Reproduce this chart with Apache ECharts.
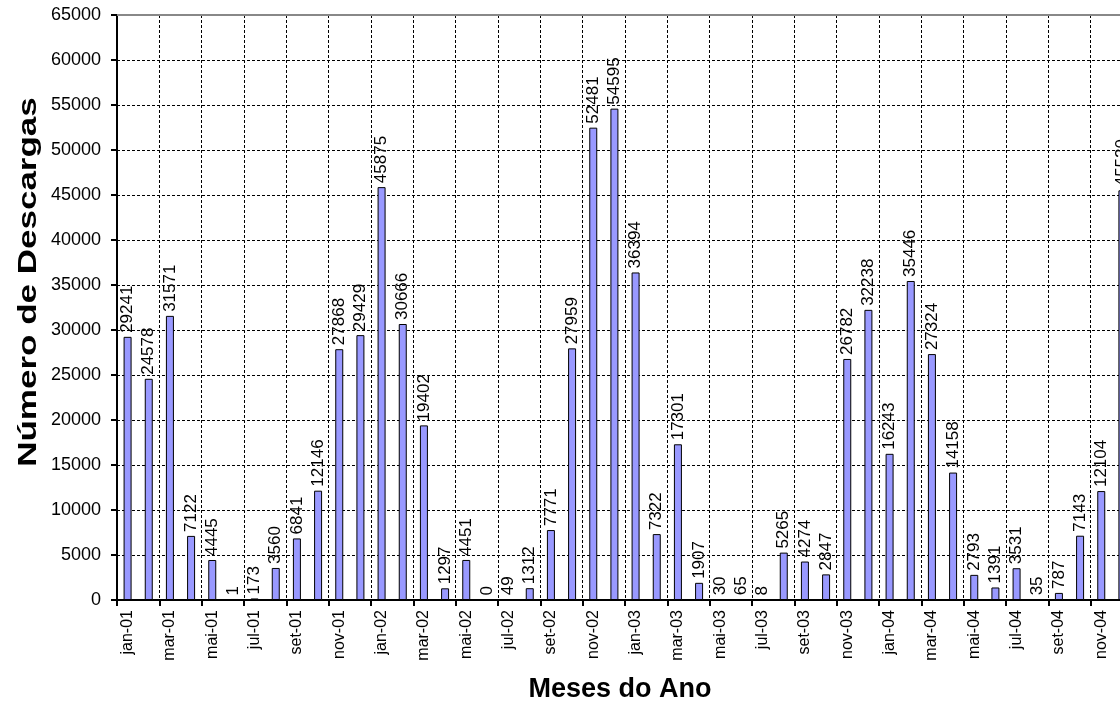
<!DOCTYPE html>
<html>
<head>
<meta charset="utf-8">
<script src="https://cdn.jsdelivr.net/npm/echarts@6/dist/echarts.min.js"></script>
<style>html,body{margin:0;padding:0;background:#fff}#c{width:1120px;height:704px}</style>
</head>
<body>
<div id="c"></div>
<script>
const months = ['jan','fev','mar','abr','mai','jun','jul','ago','set','out','nov','dez'];
const years = ['01','02','03','04'];
const categories = [];
years.forEach(y => months.forEach(m => categories.push(m + '-' + y)));

const downloads = [
  29241, 24578, 31571, 7122, 4445, 1, 173, 3560, 6841, 12146, 27868, 29429,
  45875, 30666, 19402, 1297, 4451, 0, 49, 1312, 7771, 27959, 52481, 54595,
  36394, 7322, 17301, 1907, 30, 65, 8, 5265, 4274, 2847, 26782, 32238,
  16243, 35446, 27324, 14158, 2793, 1391, 3531, 35, 787, 7143, 12104, 45520
];

const yTicks = { min: 0, max: 65000, interval: 5000 };
const yTitle = 'Número de Descargas';
const xTitle = 'Meses do Ano';

const font = 'Liberation Sans, Arial, sans-serif';
const chart = echarts.init(document.getElementById('c'), null, { renderer: 'canvas' });
chart.setOption({
  animation: false,
  backgroundColor: '#ffffff',
  grid: { left: 117, top: 15, bottom: 104, right: -13, containLabel: false, outerBoundsMode: 'none' },
  graphic: [{
    type: 'text',
    x: 29, y: 282,
    rotation: Math.PI / 2,
    scaleX: 1.4,
    style: {
      text: yTitle,
      fill: '#000',
      font: 'bold 25px "Liberation Sans", Arial, sans-serif',
      align: 'center',
      verticalAlign: 'middle'
    }
  }],
  xAxis: [{
    type: 'category',
    data: categories,
    boundaryGap: true,
    axisLine: { lineStyle: { color: '#000', width: 2 } },
    axisTick: { show: true, interval: 1, length: 6, lineStyle: { color: '#000', width: 2 } },
    axisLabel: { interval: 1, rotate: 90, color: '#000', fontSize: 16, fontFamily: font, margin: 10 },
    splitLine: { show: true, interval: 1, lineStyle: { color: '#000', type: [3, 2], width: 1 } },
    name: xTitle,
    nameLocation: 'middle',
    nameGap: 76,
    nameTextStyle: { fontSize: 27, fontWeight: 'bold', color: '#000', fontFamily: font, padding: [0, 10, 0, 0] }
  }, {
    type: 'category',
    data: categories,
    position: 'top',
    axisLine: { lineStyle: { color: '#888', width: 2 } },
    axisTick: { show: false },
    axisLabel: { show: false },
    splitLine: { show: false }
  }],
  yAxis: {
    type: 'value',
    min: yTicks.min, max: yTicks.max, interval: yTicks.interval,
    axisLine: { show: true, lineStyle: { color: '#000', width: 2 } },
    axisTick: { show: true, length: 6, lineStyle: { color: '#000', width: 2 } },
    axisLabel: { color: '#000', fontSize: 18, fontFamily: font, margin: 16, formatter: v => String(v) },
    splitLine: { show: true, lineStyle: { color: '#000', type: [3, 2], width: 1 } }
  },
  series: [{
    type: 'bar',
    xAxisIndex: 0,
    data: downloads,
    barWidth: 8,
    itemStyle: { color: '#9999ff', borderColor: '#000', borderWidth: 1 },
    label: {
      show: true,
      position: 'top',
      rotate: 90,
      align: 'left',
      verticalAlign: 'middle',
      distance: 4,
      color: '#000',
      fontSize: 17,
      fontFamily: font
    }
  }]
});
</script>
</body>
</html>
